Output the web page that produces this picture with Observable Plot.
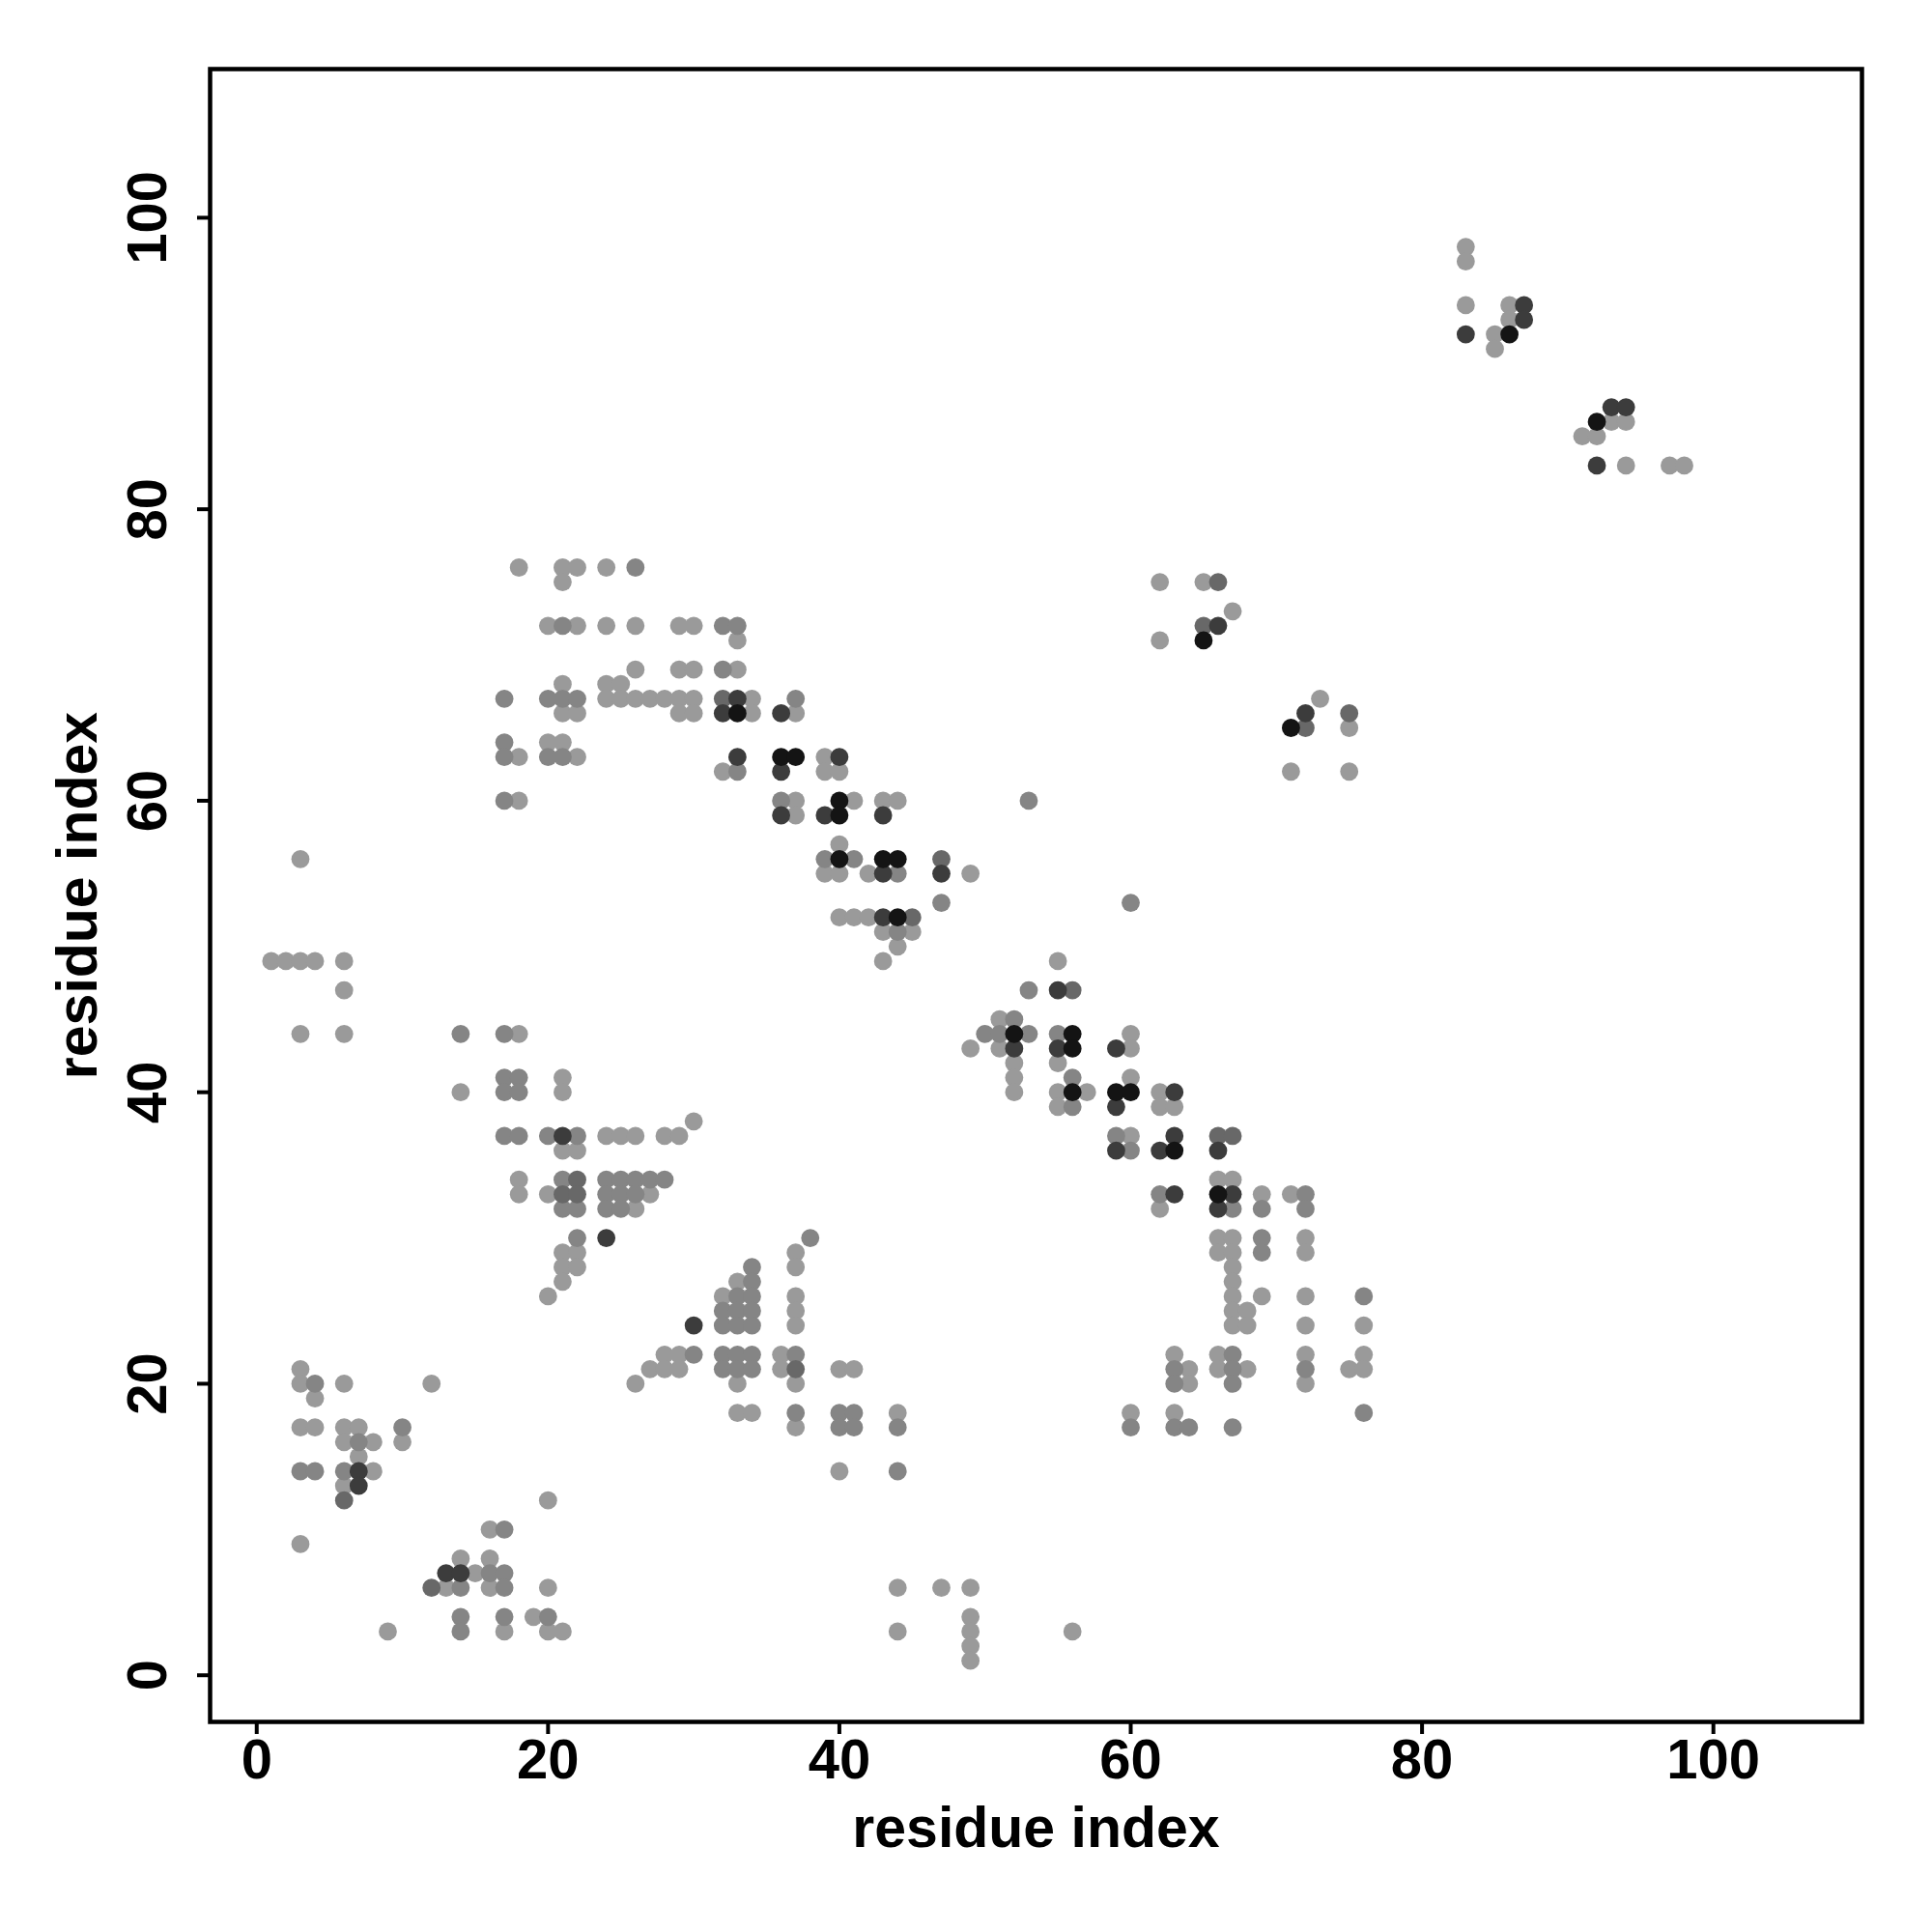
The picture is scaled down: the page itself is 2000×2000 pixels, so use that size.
<!DOCTYPE html>
<html>
<head>
<meta charset="utf-8">
<script src="https://cdn.jsdelivr.net/npm/d3@7"></script>
<script src="https://cdn.jsdelivr.net/npm/@observablehq/plot@0.6"></script>
<style>
  html, body { margin: 0; padding: 0; background: white; }
</style>
</head>
<body>
<div id="chart"></div>
<script>
// Contact points: residue i (x), residue j (y), shade level (1 light ... 5 black)
const rows = [
  [98, [[83,1]]],
  [97, [[83,1]]],
  [94, [[83,1],[86,1],[87,4]]],
  [93, [[86,1],[87,4]]],
  [92, [[83,4],[85,1],[86,5]]],
  [91, [[85,1]]],
  [87, [[93,4],[94,4]]],
  [86, [[92,5],[93,1],[94,1]]],
  [85, [[91,1],[92,1]]],
  [83, [[92,4],[94,1],[97,1],[98,1]]],
  [76, [[18,1],[21,1],[22,1],[24,1],[26,2]]],
  [75, [[21,1],[62,1],[65,1],[66,3]]],
  [73, [[67,1]]],
  [72, [[20,1],[21,2],[22,1],[24,1],[26,1],[29,1],[30,1],[32,2],[33,2],[65,3],[66,4]]],
  [71, [[33,1],[62,1],[65,5]]],
  [69, [[26,1],[29,1],[30,1],[32,2],[33,1]]],
  [68, [[21,1],[24,1],[25,1]]],
  [67, [[17,2],[20,2],[21,2],[22,2],[24,1],[25,1],[26,1],[27,1],[28,1],[29,1],[30,1],[32,3],[33,4],[34,1],[37,2],[73,1]]],
  [66, [[21,1],[22,1],[29,1],[30,1],[32,4],[33,5],[34,1],[36,4],[37,1],[72,4],[75,3]]],
  [65, [[71,5],[72,3],[75,1]]],
  [64, [[17,2],[20,1],[21,1]]],
  [63, [[17,2],[18,1],[20,2],[21,2],[22,1],[33,4],[36,5],[37,5],[39,1],[40,4]]],
  [62, [[32,1],[33,2],[36,4],[39,1],[40,1],[71,1],[75,1]]],
  [60, [[17,2],[18,1],[36,2],[37,1],[40,5],[41,1],[43,1],[44,1],[53,2]]],
  [59, [[36,4],[37,1],[39,4],[40,5],[43,4]]],
  [57, [[40,1]]],
  [56, [[3,1],[39,2],[40,5],[41,2],[43,5],[44,5],[47,3]]],
  [55, [[39,1],[40,1],[42,1],[43,4],[44,2],[47,4],[49,1]]],
  [53, [[47,2],[60,2]]],
  [52, [[40,1],[41,1],[42,1],[43,4],[44,5],[45,3]]],
  [51, [[43,1],[44,2],[45,1]]],
  [50, [[44,1]]],
  [49, [[1,1],[2,1],[3,1],[4,1],[6,1],[43,1],[55,1]]],
  [47, [[6,1],[53,2],[55,4],[56,3]]],
  [45, [[51,1],[52,2]]],
  [44, [[3,1],[6,1],[14,2],[17,2],[18,1],[50,2],[51,2],[52,5],[53,2],[55,2],[56,5],[60,1]]],
  [43, [[49,1],[51,1],[52,4],[55,4],[56,5],[59,4],[60,1]]],
  [42, [[52,1],[55,1]]],
  [41, [[17,2],[18,2],[21,1],[52,1],[56,2],[60,1]]],
  [40, [[14,1],[17,2],[18,2],[21,1],[52,1],[55,1],[56,5],[57,1],[59,5],[60,5],[62,1],[63,4]]],
  [39, [[55,1],[56,2],[59,4],[62,1],[63,1]]],
  [38, [[30,1]]],
  [37, [[17,2],[18,2],[20,2],[21,4],[22,2],[24,1],[25,1],[26,1],[28,1],[29,1],[59,2],[60,1],[63,4],[66,3],[67,3]]],
  [36, [[21,1],[22,1],[59,4],[60,2],[62,4],[63,5],[66,4]]],
  [34, [[18,1],[21,2],[22,3],[24,2],[25,2],[26,2],[27,2],[28,2],[66,1],[67,1]]],
  [33, [[18,1],[20,1],[21,3],[22,3],[24,2],[25,2],[26,2],[27,1],[62,2],[63,4],[66,5],[67,4],[69,1],[71,1],[72,2]]],
  [32, [[21,2],[22,2],[24,2],[25,2],[26,1],[62,1],[66,4],[67,2],[69,2],[72,2]]],
  [30, [[22,2],[24,4],[38,2],[66,1],[67,1],[69,2],[72,1]]],
  [29, [[21,1],[22,1],[37,1],[66,1],[67,1],[69,2],[72,1]]],
  [28, [[21,1],[22,1],[34,2],[37,1],[67,1]]],
  [27, [[21,1],[33,1],[34,2],[67,1]]],
  [26, [[20,1],[32,1],[33,2],[34,2],[37,1],[67,1],[69,1],[72,1],[76,2]]],
  [25, [[32,2],[33,2],[34,2],[37,1],[67,1],[68,1]]],
  [24, [[30,4],[32,2],[33,2],[34,2],[37,1],[67,1],[68,1],[72,1],[76,1]]],
  [22, [[28,1],[29,1],[30,2],[32,2],[33,2],[34,2],[36,1],[37,2],[63,1],[66,1],[67,2],[72,1],[76,1]]],
  [21, [[3,1],[27,1],[28,1],[29,1],[32,2],[33,2],[34,2],[36,1],[37,3],[40,1],[41,1],[63,2],[64,1],[66,1],[67,2],[68,1],[72,2],[75,1],[76,1]]],
  [20, [[3,1],[4,2],[6,1],[12,1],[26,1],[33,1],[37,1],[63,2],[64,1],[67,2],[72,1]]],
  [19, [[4,1]]],
  [18, [[33,1],[34,1],[37,2],[40,2],[41,2],[44,1],[60,1],[63,1],[76,2]]],
  [17, [[3,1],[4,1],[6,1],[7,1],[10,2],[37,1],[40,2],[41,2],[44,2],[60,2],[63,2],[64,2],[67,2]]],
  [16, [[6,1],[7,2],[8,1],[10,1]]],
  [15, [[7,1]]],
  [14, [[3,2],[4,2],[6,2],[7,4],[8,1],[40,1],[44,2]]],
  [13, [[6,1],[7,4]]],
  [12, [[6,3],[20,1]]],
  [10, [[16,1],[17,2]]],
  [9,  [[3,1]]],
  [8,  [[14,1],[16,1]]],
  [7,  [[13,4],[14,4],[15,1],[16,2],[17,2]]],
  [6,  [[12,3],[13,1],[14,2],[16,1],[17,2],[20,1],[44,1],[47,1],[49,1]]],
  [4,  [[14,2],[17,2],[19,1],[20,2],[49,1]]],
  [3,  [[9,1],[14,2],[17,1],[20,1],[21,1],[44,1],[49,1],[56,1]]],
  [2,  [[49,1]]],
  [1,  [[49,1]]]
];

const shadeLevels = [1, 2, 3, 4, 5];
const shadeColors = ["#9a9a9a", "#858585", "#686868", "#3c3c3c", "#141414"];
const xTicks = [0, 20, 40, 60, 80, 100];
const yTicks = [0, 20, 40, 60, 80, 100];
const xTitle = "residue index";
const yTitle = "residue index";

// Build table (lighter first so darker dots sit on top)
const points = [];
for (const [y, cells] of rows) for (const [x, s] of cells) points.push({x, y, s});
points.sort((a, b) => a.s - b.s);

const font = "'Liberation Sans', Arial, Helvetica, sans-serif";

const chart = Plot.plot({
  width: 2000,
  height: 2000,
  marginLeft: 217,
  marginRight: 73,
  marginTop: 71,
  marginBottom: 218,
  x: {domain: [-3.2, 110.2]},
  y: {domain: [-3.2, 110.2]},
  color: {type: "ordinal", domain: shadeLevels, range: shadeColors},
  style: {fontFamily: font, fontWeight: "bold", background: "white", color: "black"},
  marks: [
    Plot.dot(points, {x: "x", y: "y", fill: "s", r: 9.4}),
    Plot.frame({stroke: "black", strokeWidth: 4.5}),
    Plot.axisX({ticks: xTicks, tickSize: 13, strokeWidth: 4, tickFormat: () => "", label: null}),
    Plot.axisY({ticks: yTicks, tickSize: 13, strokeWidth: 4, tickFormat: () => "", label: null}),
    Plot.text(xTicks, {x: d => d, frameAnchor: "bottom", dy: 40, lineAnchor: "middle", fontSize: 58, fontWeight: "bold", fill: "black"}),
    Plot.text(yTicks, {y: d => d, frameAnchor: "left", dx: -64, rotate: -90, textAnchor: "middle", lineAnchor: "middle", fontSize: 58, fontWeight: "bold", fill: "black"}),
    Plot.text([xTitle], {frameAnchor: "bottom", dy: 111, lineAnchor: "middle", fontSize: 59, fontWeight: "bold", fill: "black"}),
    Plot.text([yTitle], {frameAnchor: "left", dx: -136, rotate: -90, textAnchor: "middle", lineAnchor: "middle", fontSize: 59, fontWeight: "bold", fill: "black"})
  ]
});
document.getElementById("chart").appendChild(chart);
</script>
</body>
</html>
